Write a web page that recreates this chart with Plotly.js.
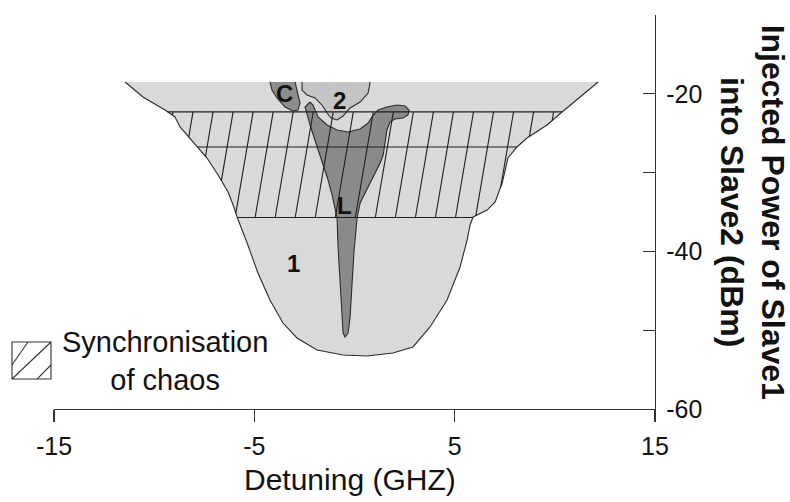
<!DOCTYPE html>
<html>
<head>
<meta charset="utf-8">
<script src="https://cdn.plot.ly/plotly-3.0.1.min.js"></script>
<style>html,body{margin:0;padding:0;background:#fff;}#chart{width:790px;height:502px;}</style>
</head>
<body>
<div id="chart"></div>
<script>
// ---- Data (detuning in GHz, injected power in dBm) ----
// Region 1 boundary (light grey), from top-left corner round to top-right corner
const region1X = [-11.45, -10.56, -9.46, -8.96, -8.71, -8.06, -7.36, -6.81, -6.31, -6.06, -5.86, -5.36, -4.82, -4.22, -3.57, -2.87, -1.87, -0.57, 0.63, 1.92, 2.92, 3.77, 4.62, 5.27, 5.62, 5.77, 5.92, 6.62, 7.02, 7.37, 7.52, 7.66, 8.11, 8.61, 9.61, 10.36, 12.16];
const region1Y = [-18.5, -20.41, -22.06, -22.94, -24.21, -26.12, -28.15, -30.30, -32.46, -34.11, -35.63, -38.93, -42.74, -46.17, -49.09, -50.99, -52.51, -53.15, -53.27, -52.89, -52.13, -49.59, -46.17, -41.98, -38.55, -36.65, -35.63, -34.75, -33.73, -31.32, -29.67, -28.15, -26.75, -25.61, -23.96, -22.31, -18.5];
// Region C (dark grey)
const regionCX = [-4.22, -4.12, -3.87, -3.47, -3.07, -2.82, -2.72, -2.82, -2.92, -2.97];
const regionCY = [-18.5, -19.52, -20.53, -21.68, -22.18, -22.06, -21.17, -20.15, -19.26, -18.5];
// Region 2 (medium grey)
const region2X = [-2.62, -2.62, -2.37, -1.97, -1.62, -1.37, -1.17, -0.87, -0.57, -0.22, 0.28, 0.68, 0.78];
const region2Y = [-18.5, -19.52, -20.15, -20.53, -21.42, -22.44, -23.07, -23.32, -22.82, -21.8, -21.04, -19.9, -18.5];
// Region L (dark grey, Y shaped)
const regionLX = [-2.22, -2.07, -1.82, -1.37, -0.87, -0.32, 0.28, 0.68, 0.93, 1.18, 1.62, 2.12, 2.52, 2.72, 2.67, 2.42, 2.02, 1.77, 1.62, 1.53, 1.43, 1.28, 0.78, 0.28, 0.13, -0.02, -0.12, -0.22, -0.32, -0.47, -0.57, -0.62, -0.72, -0.82, -0.87, -0.97, -1.12, -1.32, -1.57, -1.82, -2.02, -2.22, -2.37, -2.47, -2.22];
const regionLY = [-21.04, -21.42, -22.94, -23.96, -24.59, -24.85, -24.47, -23.71, -22.69, -22.06, -21.68, -21.42, -21.55, -22.06, -22.69, -23.07, -23.20, -23.58, -24.59, -26.12, -27.77, -28.78, -31.32, -33.86, -35.76, -39.82, -44.01, -48.32, -50.36, -50.86, -50.36, -48.32, -44.01, -39.44, -35.76, -34.49, -32.84, -30.94, -29.04, -27.13, -25.61, -23.96, -22.56, -21.68, -21.04];
// Synchronisation-of-chaos band: horizontal boundary levels (dBm)
const hatchLevels = [-22.3, -26.75, -35.7];
// Region labels
const labelText = ['C', '2', 'L', '1'];
const labelX = [-3.47, -0.77, -0.5, -3.07];
const labelY = [-20.0, -20.79, -34.2, -41.5];
// Axis ticks
const xTickVals = [-15, -5, 5, 15];
const yTickVals = [-60, -50, -40, -30, -20, -10];
const yTickText = ['-60', '', '-40', '', '-20', ''];

// ---- geometry helpers for hatch clipping ----
function inside(x, y, px, py) {
  let c = false;
  for (let i = 0, j = px.length - 1; i < px.length; j = i++) {
    if (((py[i] > y) !== (py[j] > y)) && (x < (px[j] - px[i]) * (y - py[i]) / (py[j] - py[i]) + px[i])) c = !c;
  }
  return c;
}
function clip(ax, ay, bx, by, px, py) {
  const ts = [0, 1];
  const n = px.length;
  for (let i = 0; i < n; i++) {
    const j = (i + 1) % n;
    const ex = px[j] - px[i], ey = py[j] - py[i];
    const dx = bx - ax, dy = by - ay;
    const den = dx * ey - dy * ex;
    if (Math.abs(den) < 1e-12) continue;
    const t = ((px[i] - ax) * ey - (py[i] - ay) * ex) / den;
    const u = ((px[i] - ax) * dy - (py[i] - ay) * dx) / den;
    if (t > 0 && t < 1 && u >= 0 && u <= 1) ts.push(t);
  }
  ts.sort((a, b) => a - b);
  const segs = [];
  for (let k = 0; k < ts.length - 1; k++) {
    const tm = (ts[k] + ts[k + 1]) / 2;
    if (inside(ax + (bx - ax) * tm, ay + (by - ay) * tm, px, py)) {
      segs.push([ax + (bx - ax) * ts[k], ay + (by - ay) * ts[k], ax + (bx - ax) * ts[k + 1], ay + (by - ay) * ts[k + 1]]);
    }
  }
  return segs;
}

const hx = [], hy = [];
function addSegs(segs) { segs.forEach(s => { hx.push(s[0], s[2], null); hy.push(s[1], s[3], null); }); }
// horizontal band lines
hatchLevels.forEach(lv => addSegs(clip(-15, lv, 15, lv, region1X, region1Y)));
// diagonal hatch lines (spacing 1 GHz, leaning right)
const yTop = hatchLevels[0], yBot = hatchLevels[hatchLevels.length - 1];
const lean = 0.9; // GHz shift across the band
for (let k = -2; k <= 22; k++) {
  const xt = -9.06 + k;
  addSegs(clip(xt - lean, yBot, xt, yTop, region1X, region1Y));
}

const outline = {color: '#2b2b2b', width: 1.1};
function fillTrace(x, y, color) {
  return {x: x, y: y, type: 'scatter', mode: 'lines', fill: 'toself', fillcolor: color, line: {width: 0, color: color}, hoverinfo: 'skip'};
}
function lineTrace(x, y, ln) {
  return {x: x, y: y, type: 'scatter', mode: 'lines', line: ln, hoverinfo: 'skip'};
}

const traces = [
  fillTrace(region1X, region1Y, '#d9d9d9'),
  lineTrace(region1X, region1Y, outline),
  fillTrace(regionCX, regionCY, '#8c8c8c'),
  lineTrace(regionCX, regionCY, outline),
  fillTrace(region2X, region2Y, '#c4c4c4'),
  lineTrace(region2X, region2Y, outline),
  fillTrace(regionLX, regionLY, '#8a8a8a'),
  lineTrace(regionLX, regionLY, outline),
  lineTrace(hx, hy, {color: '#1e1e1e', width: 1.1})
];

const font = 'Liberation Sans, Arial, Helvetica, sans-serif';
const annotations = labelText.map((t, i) => ({
  x: labelX[i], y: labelY[i], xref: 'x', yref: 'y', text: '<b>' + t + '</b>', showarrow: false,
  font: {family: font, size: 24, color: '#111'}
}));
annotations.push({x: 0.4925, y: -0.178, xref: 'paper', yref: 'paper', text: 'Detuning (GHZ)', showarrow: false,
  xanchor: 'center', yanchor: 'middle', borderpad: 0, font: {family: font, size: 30, color: '#111'}});
annotations.push({x: 1.162, y: 0.5, xref: 'paper', yref: 'paper', text: '<b>Injected Power of Slave1<br>into Slave2 (dBm)</b>', showarrow: false,
  textangle: 90, xanchor: 'center', yanchor: 'middle', font: {family: font, size: 32, color: '#111'}});
annotations.push({x: 0.1847, y: 0.123, xref: 'paper', yref: 'paper', text: 'Synchronisation<br>of chaos', showarrow: false,
  align: 'center', xanchor: 'center', yanchor: 'middle', font: {family: font, size: 29, color: '#111'}});

const lc = '#333';
const shapes = [
  {type: 'rect', xref: 'paper', yref: 'paper', x0: -0.0699, x1: -0.005, y0: 0.0761, y1: 0.170, line: {color: lc, width: 1.1}},
  {type: 'line', xref: 'paper', yref: 'paper', x0: -0.0699, y0: 0.0761, x1: -0.005, y1: 0.170, line: {color: lc, width: 1.1}},
  {type: 'line', xref: 'paper', yref: 'paper', x0: -0.0699, y0: 0.1117, x1: -0.0433, y1: 0.170, line: {color: lc, width: 1.1}},
  {type: 'line', xref: 'paper', yref: 'paper', x0: -0.0283, y0: 0.0761, x1: -0.005, y1: 0.1117, line: {color: lc, width: 1.1}}
];

const layout = {
  width: 790, height: 502,
  margin: {l: 54, r: 135, t: 15, b: 93},
  paper_bgcolor: '#fff', plot_bgcolor: '#fff',
  showlegend: false, hovermode: false,
  xaxis: {range: [-15, 15], tickvals: xTickVals, ticktext: xTickVals.map(String), ticks: 'outside', ticklen: 12, tickwidth: 1.3, tickcolor: lc,
    showline: true, linecolor: lc, linewidth: 1.3, showgrid: false, zeroline: false, ticklabelstandoff: 3,
    tickfont: {family: font, size: 25, color: '#111'}},
  yaxis: {range: [-60, -10], side: 'right', tickvals: yTickVals, ticktext: yTickText, ticks: 'inside', ticklen: 12, tickwidth: 1.3, tickcolor: lc,
    showline: true, linecolor: lc, linewidth: 1.3, showgrid: false, zeroline: false, ticklabelstandoff: 5,
    tickfont: {family: font, size: 25, color: '#111'}},
  annotations: annotations,
  shapes: shapes
};

Plotly.newPlot('chart', traces, layout, {staticPlot: true, displayModeBar: false});
</script>
</body>
</html>
